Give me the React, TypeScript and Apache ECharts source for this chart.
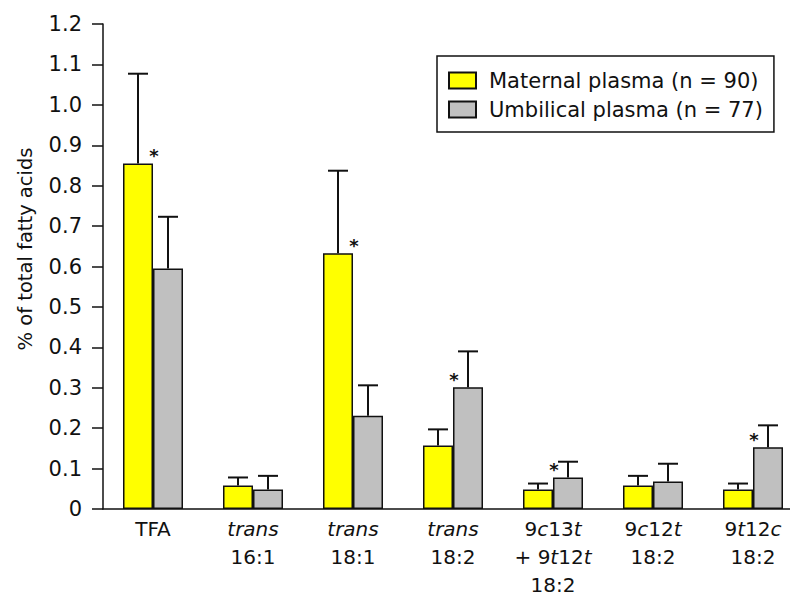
import React, { useEffect, useRef } from "react";
import * as echarts from "echarts";

const categories = [
  "TFA",
  "{i|trans}\n16:1",
  "{i|trans}\n18:1",
  "{i|trans}\n18:2",
  "9{i|c}13{i|t}\n+ 9{i|t}12{i|t}\n18:2",
  "9{i|c}12{i|t}\n18:2",
  "9{i|t}12{i|c}\n18:2",
];
const seriesNames = ["Maternal plasma (n = 90)", "Umbilical plasma (n = 77)"];
const maternal = [0.855, 0.058, 0.633, 0.157, 0.048, 0.058, 0.048];
const maternalSD = [0.222, 0.02, 0.204, 0.04, 0.015, 0.024, 0.015];
const umbilical = [0.595, 0.048, 0.231, 0.301, 0.078, 0.068, 0.153];
const umbilicalSD = [0.128, 0.034, 0.075, 0.089, 0.039, 0.044, 0.054];
const maternalSig = [1, 0, 1, 0, 0, 0, 0];
const umbilicalSig = [0, 0, 0, 1, 1, 0, 1];
const yTicks = { min: 0, max: 1.2, interval: 0.1 };
const yAxisTitle = "% of total fatty acids";

const FONT = "'DejaVu Sans', 'Liberation Sans', sans-serif";
const INK = "#111";

function makeErr(offset: number) {
  return (params: any, api: any) => {
    const i = api.value(0);
    const m = api.value(1);
    const sd = api.value(2);
    const sig = api.value(3);
    const base = api.coord([i, m]);
    const top = api.coord([i, m + sd]);
    const x = base[0] + offset;
    const children: any[] = [
      { type: "line", shape: { x1: x, y1: base[1], x2: x, y2: top[1] }, style: { stroke: INK, lineWidth: 2 } },
      { type: "line", shape: { x1: x - 10, y1: top[1], x2: x + 10, y2: top[1] }, style: { stroke: INK, lineWidth: 2 } },
    ];
    if (sig) {
      children.push({
        type: "text",
        x: base[0] + 1,
        y: base[1] - 8,
        style: {
          text: "*",
          fontSize: 18,
          fontStyle: "italic",
          fontWeight: "bold",
          fontFamily: FONT,
          fill: INK,
          align: "center",
          verticalAlign: "middle",
        },
      });
    }
    return { type: "group", children };
  };
}

export default function App() {
  const ref = useRef<HTMLDivElement>(null);
  useEffect(() => {
    if (!ref.current) return;
    const chart = echarts.init(ref.current, undefined, { renderer: "svg" });
    const mData = maternal.map((v, i) => [i, v, maternalSD[i], maternalSig[i]]);
    const uData = umbilical.map((v, i) => [i, v, umbilicalSD[i], umbilicalSig[i]]);
    chart.setOption({
      animation: false,
      backgroundColor: "#fff",
      grid: { left: 103, top: 24, right: -13, bottom: 90, outerBoundsMode: "none" },
      legend: {
        data: seriesNames,
        orient: "vertical",
        left: 437,
        top: 56,
        padding: [14, 11, 12, 11],
        itemWidth: 27,
        itemHeight: 16,
        itemGap: 8,
        icon: "rect",
        borderColor: INK,
        borderWidth: 1.5,
        backgroundColor: "#fff",
        textStyle: { fontSize: 21, fontFamily: FONT, color: INK, lineHeight: 16, padding: [0, 0, 0, 8] },
      },
      xAxis: {
        type: "category",
        data: categories,
        axisLine: { lineStyle: { color: INK, width: 1.5 } },
        axisTick: { length: 7, lineStyle: { color: INK, width: 1.5 } },
        axisLabel: {
          interval: 0,
          margin: 6,
          fontSize: 20,
          lineHeight: 28,
          fontFamily: FONT,
          color: INK,
          rich: {
            i: { fontStyle: "italic", fontSize: 20, lineHeight: 28, fontFamily: FONT, color: INK },
          },
        },
      },
      yAxis: {
        type: "value",
        min: yTicks.min,
        max: yTicks.max,
        interval: yTicks.interval,
        splitLine: { show: false },
        axisLine: { show: true, lineStyle: { color: INK, width: 1.5 } },
        axisTick: { show: true, length: 11, lineStyle: { color: INK, width: 1.5 } },
        axisLabel: {
          margin: 21,
          fontSize: 21,
          fontFamily: FONT,
          color: INK,
          formatter: (v: number) => (Math.abs(v) < 1e-9 ? "0" : v.toFixed(1)),
        },
      },
      graphic: [
        {
          type: "text",
          x: 25,
          y: 249,
          rotation: Math.PI / 2,
          style: {
            text: yAxisTitle,
            fontSize: 19.5,
            fontFamily: FONT,
            fill: INK,
            align: "center",
            verticalAlign: "middle",
          },
        },
      ],
      series: [
        {
          name: seriesNames[0],
          type: "bar",
          data: maternal,
          barWidth: 30,
          barGap: "0%",
          itemStyle: { color: "#ffff00", borderColor: INK, borderWidth: 1.5 },
        },
        {
          name: seriesNames[1],
          type: "bar",
          data: umbilical,
          barWidth: 30,
          barGap: "0%",
          itemStyle: { color: "#c0c0c0", borderColor: INK, borderWidth: 1.5 },
        },
        {
          type: "custom",
          renderItem: makeErr(-15),
          data: mData,
          encode: { x: 0, y: 1 },
          z: 5,
        },
        {
          type: "custom",
          renderItem: makeErr(15),
          data: uData,
          encode: { x: 0, y: 1 },
          z: 5,
        },
      ],
    });
    return () => chart.dispose();
  }, []);
  return (
    <div
      ref={ref}
      style={{ position: "fixed", left: 0, top: 0, width: 790, height: 599, background: "#fff" }}
    />
  );
}
